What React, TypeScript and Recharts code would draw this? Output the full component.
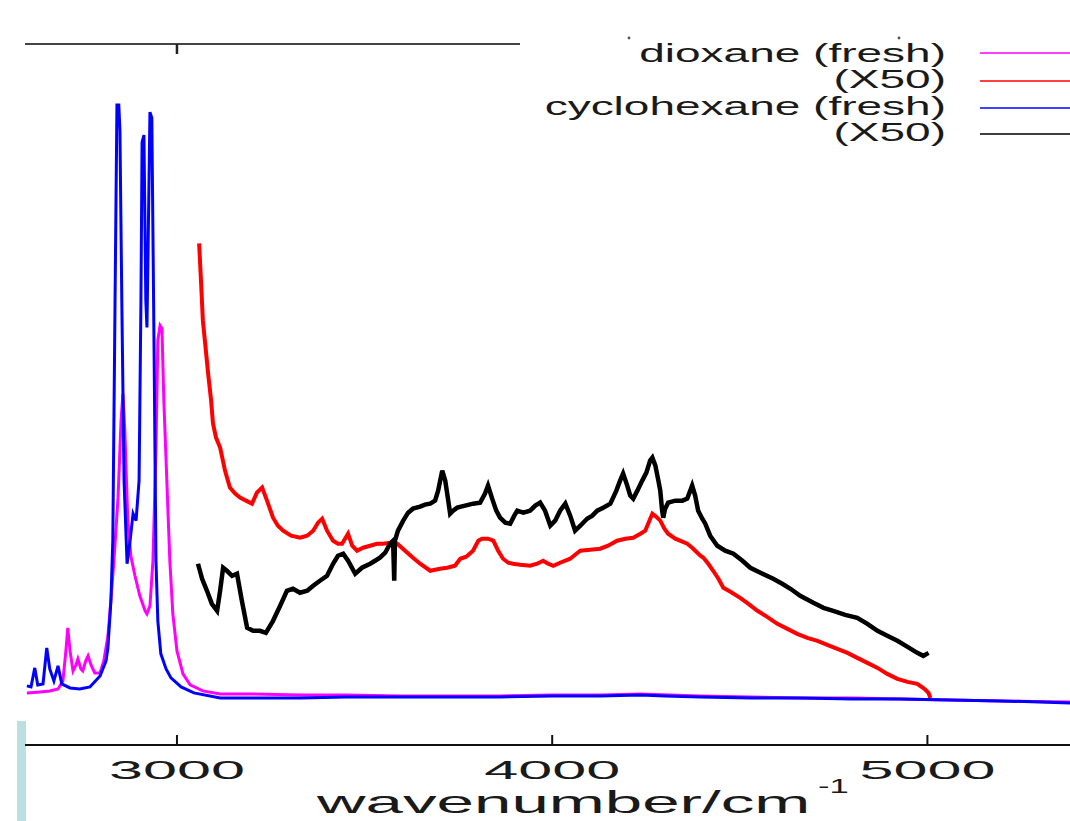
import React from 'react';
import { LineChart, Line, XAxis, YAxis, Legend, Label } from 'recharts';

// wavenumber / cm^-1 and intensity (arbitrary units)
const dioxaneFreshX = [
  2600, 2635, 2661, 2683, 2696, 2704, 2709, 2715, 2723, 2731, 2736, 2744, 2749, 2757, 2763, 2771,
  2781, 2795, 2805, 2816, 2821, 2832, 2843, 2851, 2856, 2861, 2869, 2877, 2888, 2901, 2915, 2920,
  2928, 2936, 2944, 2949, 2955, 2960, 2965, 2973, 2981, 2989, 3000, 3016, 3035, 3069, 3115, 3200,
  3328, 3450, 3595, 3730, 3861, 4000, 4128, 4235, 4395, 4530, 4661, 4800, 4928, 5060, 5195, 5380,
];
const dioxaneFreshY = [
  52, 53, 54, 56, 64, 94, 117, 94, 74, 80, 86, 76, 74, 84, 89, 80,
  72, 72, 84, 109, 131, 184, 247, 324, 351, 314, 224, 189, 169, 149, 134, 131,
  139, 184, 294, 404, 419, 416, 344, 264, 184, 131, 94, 71, 60, 54, 51, 51,
  50, 50, 49, 49, 49, 50, 50, 51, 49, 48, 47, 47, 46, 45, 44, 43,
];

const dioxaneX50X = [
  3059, 3064, 3069, 3077, 3083, 3091, 3096, 3104, 3115, 3128, 3141, 3155, 3168, 3184, 3200, 3213,
  3227, 3240, 3256, 3269, 3283, 3304, 3328, 3347, 3363, 3376, 3387, 3400, 3416, 3429, 3440, 3456,
  3467, 3480, 3496, 3515, 3533, 3549, 3568, 3587, 3608, 3629, 3648, 3675, 3701, 3720, 3741, 3755,
  3771, 3789, 3803, 3813, 3829, 3843, 3856, 3869, 3883, 3896, 3915, 3941, 3960, 3976, 3989, 4003,
  4021, 4048, 4061, 4075, 4101, 4128, 4149, 4173, 4195, 4216, 4235, 4248, 4259, 4267, 4277, 4288,
  4299, 4309, 4328, 4347, 4360, 4373, 4395, 4403, 4416, 4429, 4443, 4456, 4475, 4501, 4523, 4547,
  4573, 4600, 4627, 4653, 4680, 4707, 4733, 4760, 4787, 4813, 4840, 4867, 4893, 4920, 4947, 4973,
  4992, 5003, 5008,
];
const dioxaneX50Y = [
  501, 464, 424, 394, 371, 344, 321, 307, 297, 274, 257, 251, 247, 244, 241, 252,
  257, 244, 227, 219, 214, 209, 207, 209, 214, 222, 226, 214, 204, 201, 201, 211,
  199, 194, 197, 199, 201, 201, 202, 201, 194, 187, 181, 174, 176, 177, 179, 186,
  188, 194, 204, 206, 206, 204, 194, 186, 182, 181, 180, 179, 181, 184, 181, 179,
  182, 186, 190, 194, 195, 196, 199, 204, 206, 207, 211, 214, 224, 231, 228, 224,
  216, 211, 206, 203, 201, 197, 189, 187, 181, 174, 166, 157, 153, 147, 141, 134,
  128, 121, 116, 111, 107, 104, 100, 96, 92, 87, 82, 77, 71, 66, 63, 61,
  56, 52, 47,
];

const cyclohexaneFreshX = [
  2600, 2611, 2621, 2629, 2643, 2653, 2661, 2672, 2683, 2693, 2715, 2741, 2768, 2795, 2811, 2816,
  2824, 2829, 2835, 2840, 2845, 2848, 2853, 2859, 2867, 2875, 2883, 2891, 2899, 2904, 2907, 2912,
  2917, 2920, 2923, 2928, 2933, 2939, 2944, 2949, 2957, 2971, 2984, 3011, 3045, 3115, 3200, 3328,
  3450, 3595, 3730, 3861, 4000, 4128, 4235, 4300, 4395, 4530, 4661, 4800, 4928, 5060, 5195, 5300,
  5380,
];
const cyclohexaneFreshY = [
  59, 58, 77, 60, 61, 97, 76, 64, 79, 61, 57, 56, 58, 69, 84, 97,
  144, 204, 444, 639, 639, 614, 444, 264, 181, 204, 231, 224, 264, 444, 602, 609,
  444, 417, 494, 632, 626, 394, 184, 124, 91, 76, 67, 58, 52, 47, 47, 47,
  48, 48, 48, 48, 49, 49, 50, 49, 48, 47, 47, 46, 46, 45, 44, 43,
  42,
];

const cyclohexaneX50X = [
  3056, 3067, 3080, 3093, 3107, 3115, 3123, 3133, 3147, 3160, 3173, 3187, 3203, 3221, 3237, 3256,
  3275, 3293, 3309, 3328, 3347, 3363, 3381, 3400, 3416, 3429, 3443, 3456, 3475, 3493, 3515, 3528,
  3541, 3555, 3568, 3576, 3579, 3581, 3589, 3603, 3616, 3629, 3648, 3661, 3675, 3688, 3696, 3707,
  3715, 3723, 3728, 3736, 3747, 3768, 3789, 3808, 3821, 3829, 3840, 3851, 3861, 3875, 3888, 3899,
  3907, 3923, 3941, 3955, 3968, 3981, 3995, 4008, 4021, 4035, 4048, 4061, 4075, 4093, 4107, 4120,
  4136, 4155, 4171, 4181, 4189, 4200, 4208, 4216, 4227, 4240, 4251, 4261, 4267, 4275, 4283, 4288,
  4293, 4296, 4301, 4309, 4328, 4347, 4360, 4368, 4373, 4381, 4389, 4400, 4408, 4421, 4440, 4461,
  4483, 4507, 4528, 4555, 4589, 4613, 4635, 4661, 4696, 4723, 4749, 4781, 4813, 4840, 4867, 4893,
  4920, 4947, 4973, 4989, 5003,
];
const cyclohexaneX50Y = [
  181, 166, 154, 141, 134, 154, 177, 174, 169, 171, 144, 117, 114, 114, 112, 124,
  139, 154, 156, 152, 154, 159, 164, 169, 181, 189, 191, 184, 171, 177, 181, 184,
  187, 192, 201, 204, 164, 204, 214, 224, 232, 236, 238, 240, 241, 244, 254, 274,
  264, 244, 231, 234, 237, 239, 241, 242, 251, 259, 246, 234, 227, 222, 221, 229,
  234, 232, 234, 239, 242, 234, 219, 224, 234, 241, 229, 214, 219, 226, 229, 234,
  237, 241, 254, 264, 271, 259, 249, 246, 254, 264, 272, 284, 287, 279, 264, 254,
  234, 227, 236, 242, 244, 244, 246, 254, 259, 249, 234, 226, 221, 209, 199, 194,
  191, 184, 177, 172, 166, 161, 156, 149, 142, 137, 134, 130, 127, 121, 114, 109,
  104, 98, 92, 89, 92,
];

const seriesNames = ['dioxane (fresh)', '(X50)', 'cyclohexane (fresh)', '(X50)'];
const seriesColors = ['#ff00ff', '#ff0000', '#0000ff', '#000000'];
const xTicks = [3000, 4000, 5000];

const toPoints = (xs: number[], ys: number[]) => xs.map((x, i) => ({ x, y: ys[i] }));

const dioxaneFresh = toPoints(dioxaneFreshX, dioxaneFreshY);
const dioxaneX50 = toPoints(dioxaneX50X, dioxaneX50Y);
const cyclohexaneFresh = toPoints(cyclohexaneFreshX, cyclohexaneFreshY);
const cyclohexaneX50 = toPoints(cyclohexaneX50X, cyclohexaneX50Y);

const FONT = '"Liberation Sans", Arial, Helvetica, sans-serif';
const INK = '#1a1a1a';

const BottomTick = (props: any) => {
  const { x, y, payload } = props;
  return (
    <g>
      <line x1={x} x2={x} y1={y} y2={y - 10} stroke="#111" strokeWidth={2} />
      <text
        transform={`translate(${x},${y + 34}) scale(2.35,1)`}
        textAnchor="middle"
        fontSize={26}
        fontFamily={FONT}
        fill={INK}
      >
        {payload.value}
      </text>
    </g>
  );
};

const TopTick = (props: any) => {
  const { x, y } = props;
  return <line x1={x} x2={x} y1={y} y2={y + 10} stroke="#222" strokeWidth={2.5} />;
};

const AxisTitle = () => (
  <g fontFamily={FONT} fill={INK}>
    <text transform="translate(317,813) scale(2.17,1)" fontSize={31}>
      wavenumber/cm
    </text>
    <text transform="translate(818,793) scale(1.65,1)" fontSize={21}>
      -1
    </text>
  </g>
);

// legend rows, in wrapper coordinates
const legendBaselines = [42, 68, 95, 121];
const legendLineYs = [33, 61, 88, 114];

const LegendBox = (props: any) => {
  const payload = [...(props.payload || [])].sort(
    (a: any, b: any) => seriesColors.indexOf(a.color) - seriesColors.indexOf(b.color),
  );
  return (
    <svg width={550} height={135} style={{ display: 'block' }}>
      <circle cx={109} cy={18} r={1.4} fill="#555" />
      <circle cx={379} cy={18} r={1.4} fill="#555" />
      {payload.map((entry: any, i: number) => (
        <g key={i}>
          <text
            transform={`translate(426,${legendBaselines[i]}) scale(1.84,1)`}
            textAnchor="end"
            fontSize={25}
            fontFamily={FONT}
            fill={INK}
          >
            {entry.value}
          </text>
          <line x1={460} x2={550} y1={legendLineYs[i]} y2={legendLineYs[i]} stroke={entry.color} strokeWidth={1.5} />
        </g>
      ))}
    </svg>
  );
};

export default function App() {
  return (
    <div
      style={{
        position: 'absolute',
        left: 0,
        top: 0,
        width: 1070,
        height: 821,
        overflow: 'hidden',
        background: '#fff',
      }}
    >
      <div style={{ position: 'absolute', left: 17, top: 721, width: 9, height: 100, background: '#bcdfe2' }} />
      <LineChart width={1070} height={821} margin={{ top: 40, right: 0, bottom: 16, left: 25 }}>
        <XAxis
          dataKey="x"
          type="number"
          domain={[2595, 5380]}
          allowDataOverflow
          ticks={xTicks}
          tickSize={0}
          tickMargin={0}
          tick={<BottomTick />}
          height={60}
          axisLine={{ stroke: '#111', strokeWidth: 2 }}
        >
          <Label content={<AxisTitle />} />
        </XAxis>
        <XAxis
          xAxisId="top"
          orientation="top"
          dataKey="x"
          type="number"
          domain={[2595, 5380]}
          allowDataOverflow
          ticks={[3000]}
          tickSize={0}
          tickMargin={0}
          tick={<TopTick />}
          height={4}
          axisLine={{ stroke: '#444', strokeWidth: 2 }}
        />
        <YAxis hide type="number" domain={[0, 700]} allowDataOverflow />
        <Legend
          layout="horizontal"
          verticalAlign="middle"
          align="center"
          content={<LegendBox />}
          wrapperStyle={{ left: 520, top: 20, width: 550, height: 135, background: '#fff' }}
        />
        <Line
          data={dioxaneFresh}
          dataKey="y"
          name={seriesNames[0]}
          stroke={seriesColors[0]}
          strokeWidth={3}
          dot={false}
          type="linear"
          isAnimationActive={false}
        />
        <Line
          data={dioxaneX50}
          dataKey="y"
          name={seriesNames[1]}
          stroke={seriesColors[1]}
          strokeWidth={4}
          dot={false}
          type="linear"
          isAnimationActive={false}
        />
        <Line
          data={cyclohexaneFresh}
          dataKey="y"
          name={seriesNames[2]}
          stroke={seriesColors[2]}
          strokeWidth={3}
          dot={false}
          type="linear"
          isAnimationActive={false}
        />
        <Line
          data={cyclohexaneX50}
          dataKey="y"
          name={seriesNames[3]}
          stroke={seriesColors[3]}
          strokeWidth={4.5}
          dot={false}
          type="linear"
          isAnimationActive={false}
        />
      </LineChart>
    </div>
  );
}
